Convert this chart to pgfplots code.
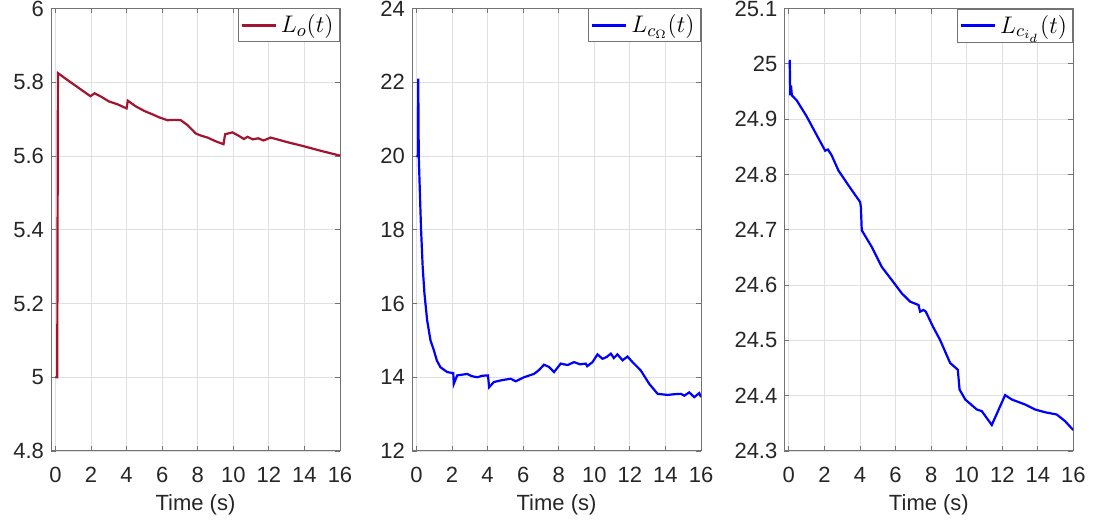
\documentclass[border=0pt]{standalone}
\usepackage{fontspec}
\setmainfont{Liberation Sans}
\usepackage{pgfplots}
\pgfplotsset{compat=1.18}
\definecolor{mred}{rgb}{0.635,0.078,0.184}
\definecolor{axgray}{rgb}{0.45,0.45,0.45}
\definecolor{txtgray}{rgb}{0.15,0.15,0.15}
\pgfplotsset{
  mystyle/.style={
    scale only axis,
    width=144.5pt, height=221.25pt,
    xmin=-0.25, xmax=16,
    xtick={0,2,...,16},
    grid=major,
    major grid style={color=black!12, line width=0.4pt},
    axis line style={color=axgray, line width=0.5pt},
    tick style={color=axgray, line width=0.4pt},
    tick align=inside,
    major tick length=2.5pt,
    /pgf/number format/assume math mode=true,
    tick label style={font=\fontsize{11}{13}\selectfont, text=txtgray},
    xticklabel style={yshift=-4.5pt},
    label style={font=\fontsize{11}{13}\selectfont, text=txtgray},
    xlabel={Time (s)},
    xlabel style={yshift=1pt},
    legend style={at={(1,1)}, anchor=north east, draw=axgray, fill=white,
      font=\fontsize{13}{15}\selectfont, inner sep=1pt, line width=0.5pt},
    legend cell align=left,
  }
}
\begin{document}
\begin{tikzpicture}
\begin{axis}[mystyle, at={(25.5pt,35.5pt)}, anchor=south west,
  ymin=4.8, ymax=6, ytick={4.8,5,5.2,5.4,5.6,5.8,6}]
\addplot[color=mred, line width=1.1pt] coordinates {
(0,5.0) (0.1,5.0) (0.14,5.825) (0.5,5.812) (1.0,5.795) (1.5,5.778) (1.97,5.762) (2.2,5.770) (2.6,5.760) (3.0,5.748) (3.5,5.740) (4.0,5.729) (4.07,5.750) (4.5,5.735) (5.0,5.722) (5.5,5.712) (5.82,5.705) (6.3,5.697) (6.7,5.698) (7.05,5.697) (7.42,5.684) (7.89,5.661) (8.2,5.655) (8.55,5.650) (9.0,5.640) (9.45,5.632) (9.54,5.659) (9.95,5.664) (10.3,5.655) (10.6,5.646) (10.8,5.652) (11.1,5.645) (11.4,5.648) (11.7,5.642) (12.1,5.650) (13,5.638) (14,5.626) (15,5.613) (16,5.601)
};
\addlegendentry{$L_o(t)$}
\end{axis}
\begin{axis}[mystyle, at={(206pt,35.5pt)}, anchor=south west,
  ymin=12, ymax=24, ytick={12,14,...,24}]
\addplot[color=blue, line width=1.1pt] coordinates {
(0,20.0) (0.08,20.0) (0.1,22.1) (0.13,20.0) (0.2,18.9) (0.26,18.0) (0.35,17.0) (0.45,16.27) (0.6,15.55) (0.79,15.0) (0.98,14.73) (1.15,14.45) (1.35,14.27) (1.73,14.14) (2.07,14.11) (2.1,13.82) (2.29,14.05) (2.86,14.09) (3.1,14.03) (3.42,14.0) (3.7,14.04) (4.02,14.05) (4.09,13.73) (4.35,13.87) (4.8,13.92) (5.3,13.96) (5.58,13.89) (6.05,14.0) (6.61,14.09) (6.9,14.2) (7.17,14.34) (7.45,14.28) (7.74,14.14) (8.11,14.37) (8.5,14.33) (8.86,14.41) (9.2,14.35) (9.52,14.37) (9.6,14.30) (9.9,14.41) (10.18,14.62) (10.46,14.50) (10.7,14.55) (10.93,14.64) (11.1,14.52) (11.3,14.62) (11.59,14.46) (11.87,14.56) (12.15,14.41) (12.62,14.18) (13.09,13.82) (13.56,13.55) (14.12,13.52) (14.5,13.54) (14.87,13.55) (15.06,13.50) (15.34,13.59) (15.62,13.46) (15.9,13.57) (16,13.46)
};
\addlegendentry{$L_{c_\Omega}(t)$}
\end{axis}
\begin{axis}[mystyle, at={(392.2pt,35.5pt)}, anchor=south west,
  ymin=24.3, ymax=25.1, ytick={24.3,24.4,24.5,24.6,24.7,24.8,24.9,25,25.1}]
\addplot[color=blue, line width=1.1pt] coordinates {
(0,25.005) (0.05,25.005) (0.08,24.943) (0.12,24.961) (0.17,24.943) (0.44,24.934) (1.0,24.905) (1.5,24.875) (2.04,24.843) (2.2,24.845) (2.4,24.835) (2.79,24.807) (3.4,24.778) (4.01,24.750) (4.05,24.741) (4.1,24.699) (4.66,24.669) (5.22,24.633) (5.79,24.609) (6.35,24.585) (6.82,24.570) (7.29,24.564) (7.38,24.552) (7.57,24.555) (7.7,24.552) (8.1,24.525) (8.5,24.501) (9.07,24.459) (9.5,24.447) (9.6,24.411) (9.92,24.393) (10.57,24.375) (10.85,24.372) (11.41,24.347) (12.16,24.401) (12.54,24.393) (13.29,24.384) (13.85,24.375) (14.41,24.370) (15.06,24.366) (15.53,24.354) (15.87,24.342) (16,24.338)
};
\addlegendentry{$L_{c_{i_d}}(t)$}
\end{axis}
\pgfresetboundingbox
\path (0,0) rectangle (546.5pt,261pt);
\end{tikzpicture}
\end{document}
